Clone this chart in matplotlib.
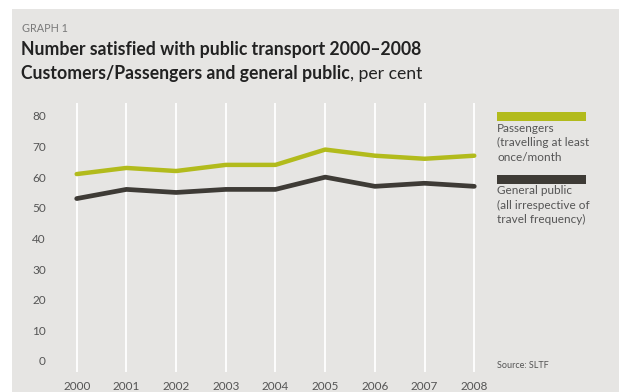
import matplotlib
matplotlib.use("Agg")
import matplotlib.pyplot as plt
from matplotlib.patches import Rectangle

years = [2000, 2001, 2002, 2003, 2004, 2005, 2006, 2007, 2008]
passengers = [61, 63, 62, 64, 64, 69, 67, 66, 67]
general_public = [53, 56, 55, 56, 56, 60, 57, 58, 57]
y_ticks = [0, 10, 20, 30, 40, 50, 60, 70, 80]

GREEN = "#b2bb1c"
DARK = "#3e3b36"
BG = "#e6e5e3"
TEXT = "#555555"

plt.rcParams["font.family"] = ["Lato", "DejaVu Sans"]

W, H = 619, 392
fig = plt.figure(figsize=(W / 100, H / 100), dpi=100)
fig.patch.set_facecolor("white")

def px(x, y):
    return x / W, 1 - y / H

# grey panel
fig.patches.append(Rectangle(px(12, H), (W - 12) / W, (H - 9) / H,
                             transform=fig.transFigure, facecolor=BG,
                             edgecolor="none", zorder=-5))

# headings
fig.text(*px(22, 28), "GRAPH 1", fontsize=7.8, color="#7a7a7a", va="center")
fig.text(*px(21, 49), "Number satisfied with public transport 2000\u20132008",
         fontsize=12.7, fontweight="bold", color="#222222", va="center")
t1 = fig.text(*px(21, 74), "Customers/Passengers and general public",
              fontsize=12.7, fontweight="bold", color="#222222", va="center")
fig.canvas.draw()
bb = t1.get_window_extent()
fig.text(bb.x1 / W, 1 - 74 / H, ", per cent", fontsize=12.7, color="#222222",
         va="center")

# plot area
left, right, top, bottom = 50, 480, 103, 372
ax = fig.add_axes([left / W, 1 - bottom / H, (right - left) / W, (bottom - top) / H])
ax.set_facecolor("none")
ax.set_zorder(2)
ax.set_xlim(1999.463, 2008.115)
ax.set_ylim(-3.6, 84.2)
for s in ax.spines.values():
    s.set_visible(False)
for yr in years:
    ax.axvline(yr, color="white", lw=1.3, zorder=1)

ax.plot(years, passengers, color=GREEN, lw=3.2, solid_capstyle="round",
        solid_joinstyle="round", zorder=3)
ax.plot(years, general_public, color=DARK, lw=3.4, solid_capstyle="round",
        solid_joinstyle="round", zorder=3)

ax.set_xticks(years)
ax.set_xticklabels([str(y) for y in years])
ax.set_yticks(y_ticks)
ax.tick_params(length=0, labelsize=8.5, labelcolor=TEXT)
ax.tick_params(axis="x", pad=6.5)
ax.tick_params(axis="y", pad=3)

# legend
fig.patches.append(Rectangle(px(497, 121), 89 / W, 9 / H, transform=fig.transFigure,
                             facecolor=GREEN, edgecolor="none"))
fig.patches.append(Rectangle(px(497, 184), 89 / W, 9 / H, transform=fig.transFigure,
                             facecolor=DARK, edgecolor="none"))
fig.text(*px(497, 122.5), "Passengers\n(travelling at least\nonce/month", fontsize=8.5,
         color=TEXT, va="top", linespacing=1.4)
fig.text(*px(497, 185), "General public\n(all irrespective of\ntravel frequency)",
         fontsize=8.5, color=TEXT, va="top", linespacing=1.4)
fig.text(*px(497, 366), "Source: SLTF", fontsize=6.5, color=TEXT, va="center")

fig.savefig("out.png", dpi=100, facecolor=fig.get_facecolor())
